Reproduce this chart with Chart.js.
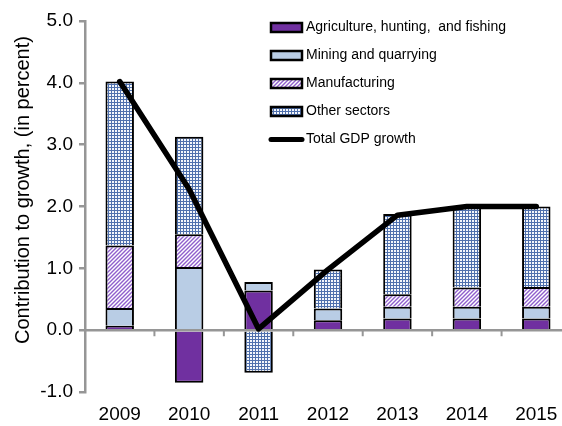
<!DOCTYPE html>
<html>
<head>
<meta charset="utf-8">
<script src="https://cdn.jsdelivr.net/npm/chart.js@4.4.1/dist/chart.umd.min.js"></script>
<style>
  html, body { margin: 0; padding: 0; background: #fff; overflow: hidden; }
  #wrap { width: 562px; height: 426px; overflow: hidden; }
</style>
</head>
<body>
<div id="wrap"><canvas id="growthChart" width="572" height="426"></canvas></div>
<script>
// Sector contributions to real GDP growth, percentage points
const years = ['2009', '2010', '2011', '2012', '2013', '2014', '2015'];
const agriculture = [0.07, -0.85, 0.64, 0.16, 0.19, 0.19, 0.19];
const mining = [0.29, 1.02, 0.14, 0.19, 0.19, 0.19, 0.19];
const manufacturing = [1.01, 0.53, null, null, 0.20, 0.31, 0.32];
const otherSectors = [2.65, 1.58, -0.69, 0.63, 1.30, 1.31, 1.30];
const totalGrowth = [4.02, 2.28, 0.02, 0.98, 1.86, 2.00, 2.00];
const yTicks = [-1, 0, 1, 2, 3, 4, 5];
const yTitle = 'Contribution to growth, (in percent)';

const FONT = 'Liberation Sans, Arial, sans-serif';
const AXIS_GREY = '#969696';

// diagonal purple hatch for manufacturing
function hatchPattern() {
    const c = document.createElement('canvas');
    c.width = 4; c.height = 4;
    const g = c.getContext('2d');
    g.fillStyle = '#ffffff';
    g.fillRect(0, 0, 4, 4);
    g.strokeStyle = '#8f5fcc';
    g.lineWidth = 1.4;
    g.beginPath();
    g.moveTo(0, 4); g.lineTo(4, 0);
    g.moveTo(-1, 1); g.lineTo(1, -1);
    g.moveTo(3, 5); g.lineTo(5, 3);
    g.stroke();
    return g.createPattern(c, 'repeat');
}

// small blue grid for other sectors
function gridPattern() {
    const c = document.createElement('canvas');
    c.width = 3; c.height = 3;
    const g = c.getContext('2d');
    g.fillStyle = '#f3f6fb';
    g.fillRect(0, 0, 3, 3);
    g.fillStyle = '#4f70ad';
    g.fillRect(0, 0, 3, 1);
    g.fillRect(0, 0, 1, 3);
    return g.createPattern(c, 'repeat');
}

function barSet(label, data, fill) {
    return {
        type: 'bar',
        label: label,
        data: data,
        backgroundColor: fill,
        borderColor: '#000000',
        borderWidth: 2,
        borderSkipped: 'start',
        barPercentage: 0.41,
        categoryPercentage: 1.0,
        stack: 'sectors'
    };
}

// zero line with small ticks between categories, drawn under the total line
const zeroLine = {
    id: 'zeroLine',
    beforeDatasetDraw(chart, args) {
        if (args.meta.type !== 'line') return;
        const ctx = chart.ctx;
        const xs = chart.scales.x;
        const y0 = chart.scales.y.getPixelForValue(0);
        ctx.save();
        ctx.strokeStyle = AXIS_GREY;
        ctx.lineWidth = 2.5;
        ctx.beginPath();
        ctx.moveTo(chart.chartArea.left, y0);
        ctx.lineTo(chart.chartArea.right, y0);
        ctx.stroke();
        ctx.lineWidth = 2;
        ctx.beginPath();
        for (let i = 1; i < years.length; i++) {
            const x = (xs.getPixelForValue(i - 1) + xs.getPixelForValue(i)) / 2;
            ctx.moveTo(x, y0);
            ctx.lineTo(x, y0 + 6);
        }
        ctx.stroke();
        ctx.restore();
    }
};

// rotated y title, sitting a little above the middle of the axis
const axisTitle = {
    id: 'axisTitle',
    afterDraw(chart) {
        const ctx = chart.ctx;
        ctx.save();
        ctx.translate(23, 190);
        ctx.rotate(-Math.PI / 2);
        ctx.font = '20px ' + FONT;
        ctx.fillStyle = '#000000';
        ctx.textAlign = 'center';
        ctx.textBaseline = 'middle';
        ctx.fillText(yTitle, 0, 0);
        ctx.restore();
    }
};

// legend boxes in the upper right of the plot
const boxLegend = {
    id: 'boxLegend',
    afterDraw(chart) {
        const ctx = chart.ctx;
        const x0 = 271, w = 31, h = 9;
        ctx.save();
        ctx.font = '14px ' + FONT;
        ctx.textBaseline = 'middle';
        chart.data.datasets.forEach((ds, i) => {
            const y = 27.5 + i * 28;
            if (ds.type === 'line') {
                ctx.strokeStyle = '#000000';
                ctx.lineWidth = 5;
                ctx.lineCap = 'round';
                ctx.beginPath();
                ctx.moveTo(x0, y);
                ctx.lineTo(x0 + w, y);
                ctx.stroke();
            } else {
                ctx.fillStyle = ds.backgroundColor;
                ctx.fillRect(x0, y - h / 2, w, h);
                ctx.strokeStyle = '#000000';
                ctx.lineWidth = 2.5;
                ctx.strokeRect(x0, y - h / 2, w, h);
            }
            ctx.fillStyle = '#000000';
            ctx.fillText(ds.label, x0 + w + 4, y);
        });
        ctx.restore();
    }
};

const ctx = document.getElementById('growthChart').getContext('2d');

new Chart(ctx, {
    data: {
        labels: years,
        datasets: [
            barSet('Agriculture, hunting,  and fishing', agriculture, '#7030a0'),
            barSet('Mining and quarrying', mining, '#b9cde5'),
            barSet('Manufacturing', manufacturing, hatchPattern()),
            barSet('Other sectors', otherSectors, gridPattern()),
            {
                type: 'line',
                label: 'Total GDP growth',
                data: totalGrowth,
                borderColor: '#000000',
                borderWidth: 5.5,
                borderCapStyle: 'round',
                borderJoinStyle: 'round',
                pointRadius: 0,
                tension: 0,
                fill: false,
                stack: 'total',
                order: -1
            }
        ]
    },
    options: {
        responsive: false,
        animation: false,
        layout: { padding: { top: 21, right: 1, left: 0, bottom: 0 } },
        plugins: {
            legend: { display: false },
            tooltip: { enabled: false }
        },
        scales: {
            x: {
                stacked: true,
                grid: { display: false },
                border: { display: false },
                ticks: {
                    font: { family: FONT, size: 19 },
                    color: '#000000',
                    maxRotation: 0,
                    padding: 3
                },
                afterFit(scale) { scale.height = 34; }
            },
            y: {
                stacked: true,
                min: -1,
                max: 5,
                afterBuildTicks(scale) {
                    scale.ticks = yTicks.map(v => ({ value: v }));
                },
                ticks: {
                    font: { family: FONT, size: 19 },
                    color: '#000000',
                    padding: 6,
                    callback: v => v.toFixed(1)
                },
                grid: {
                    drawOnChartArea: false,
                    drawTicks: true,
                    tickLength: 6,
                    color: AXIS_GREY,
                    lineWidth: 2.5
                },
                border: { color: AXIS_GREY, width: 2.5 },
                afterFit(scale) { scale.width = 85; }
            }
        }
    },
    plugins: [zeroLine, axisTitle, boxLegend]
});
</script>
</body>
</html>
